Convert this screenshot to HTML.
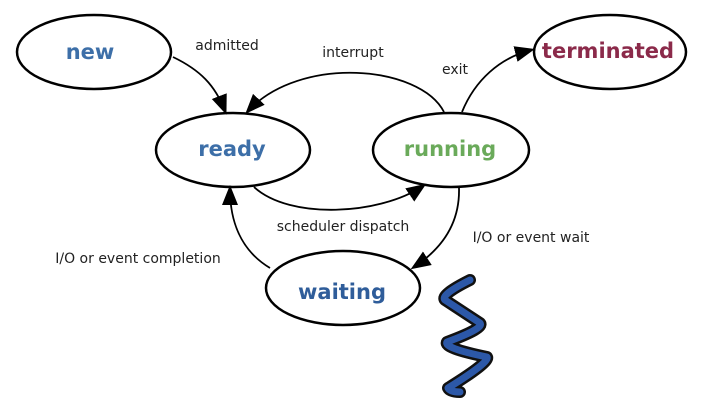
<!DOCTYPE html>
<html><head><style>
html,body{margin:0;padding:0;background:#fff;}
svg{display:block}
.st{font-family:"DejaVu Sans","Liberation Sans",sans-serif;font-weight:bold;font-size:21px;text-anchor:middle;dominant-baseline:middle}
.lb{font-family:"DejaVu Sans","Liberation Sans",sans-serif;font-size:14px;fill:#222;text-anchor:middle;dominant-baseline:middle}
</style></head><body>
<svg width="702" height="418" viewBox="0 0 702 418" xmlns="http://www.w3.org/2000/svg">
<defs>
<marker id="b" markerWidth="20" markerHeight="20" refX="16" refY="10" orient="auto" markerUnits="userSpaceOnUse" viewBox="0 0 20 20">
<path d="M0,2 L20,10 L0,18 z" fill="#000"/></marker>
</defs>
<rect width="702" height="418" fill="#fff"/>
<g fill="#fff" stroke="#000" stroke-width="2.5">
<ellipse cx="94" cy="52" rx="77" ry="37"/>
<ellipse cx="233" cy="150" rx="77" ry="37"/>
<ellipse cx="451" cy="150" rx="78" ry="37"/>
<ellipse cx="610" cy="52" rx="76" ry="37"/>
<ellipse cx="343" cy="288" rx="77" ry="37"/>
</g>
<g fill="none" stroke="#000" stroke-width="1.8">
<path d="M173,57 C200,70 215,85 225,111" marker-end="url(#b)"/>
<path d="M444,112 C420,65 300,55 248,111" marker-end="url(#b)"/>
<path d="M462,112 C475,80 500,58 531,50" marker-end="url(#b)"/>
<path d="M254,187 C290,220 380,215 423,186" marker-end="url(#b)"/>
<path d="M459,188 C460,225 440,250 414,267" marker-end="url(#b)"/>
<path d="M270,268 C240,250 230,220 230,189" marker-end="url(#b)"/>
</g>
<text class="st" x="90" y="53" fill="#3d6fa8">new</text>
<text class="st" x="232" y="150" fill="#3d6fa8">ready</text>
<text class="st" x="450" y="150" fill="#6aaa5a">running</text>
<text class="st" x="608" y="52" fill="#8b2a4a">terminated</text>
<text class="st" x="342" y="293" fill="#2f5d9a">waiting</text>
<text class="lb" x="227" y="46">admitted</text>
<text class="lb" x="353" y="53">interrupt</text>
<text class="lb" x="455" y="70">exit</text>
<text class="lb" x="343" y="227">scheduler dispatch</text>
<text class="lb" x="531" y="238">I/O or event wait</text>
<text class="lb" x="138" y="259">I/O or event completion</text>
<g fill="none" stroke-linecap="round" stroke-linejoin="round">
<path d="M470,280 Q440,295 445,300 L480,323 Q485,328 447,342 Q443,348 487,357 Q490,362 448,388 Q450,392 460,392" stroke="#111" stroke-width="12"/>
<path d="M470,280 Q440,295 445,300 L480,323 Q485,328 447,342 Q443,348 487,357 Q490,362 448,388 Q450,392 460,392" stroke="#2c58a8" stroke-width="7"/>
</g>
</svg>
</body></html>
